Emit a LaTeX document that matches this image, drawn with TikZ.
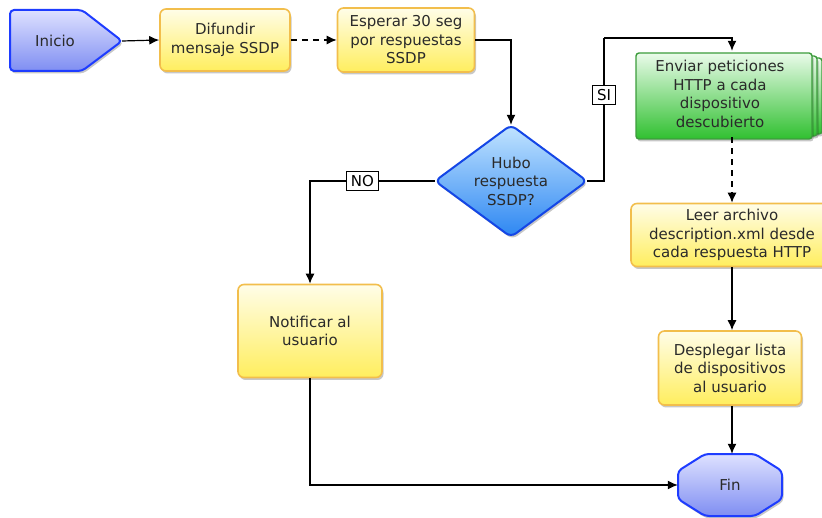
\documentclass[tikz,border=0pt]{standalone}
\usepackage{fontspec}
\setmainfont{DejaVu Sans}
\usetikzlibrary{arrows.meta,shadows,calc}
\definecolor{txt}{HTML}{2A2A2A}
\definecolor{ytop}{HTML}{FFFDE8}
\definecolor{ybot}{HTML}{FFEE5E}
\definecolor{yborder}{HTML}{F2BE4C}
\definecolor{btop}{HTML}{DEE1FF}
\definecolor{bbot}{HTML}{7F8EF2}
\definecolor{bborder}{HTML}{1E3CFF}
\definecolor{dtop}{HTML}{C2E4FF}
\definecolor{dbot}{HTML}{2C86F2}
\definecolor{dborder}{HTML}{1446E6}
\definecolor{gtop}{HTML}{EAFBEA}
\definecolor{gbot}{HTML}{30C030}
\definecolor{gborder}{HTML}{3C9C3C}
\begin{document}
\begin{tikzpicture}[x=1pt,y=-1pt,
  every node/.style={font=\fontsize{15}{18.5}\selectfont, text=txt, align=center},
  shad/.style={drop shadow={shadow xshift=1.5pt, shadow yshift=-2.5pt, opacity=0.22, fill=black}},
  ybox/.style={draw=yborder, line width=1.6pt, rounded corners=6pt, top color=ytop, bottom color=ybot, shad, inner sep=2pt},
  bshape/.style={draw=bborder, line width=2pt, rounded corners=4pt, top color=btop, bottom color=bbot, shad},
  dshape/.style={draw=dborder, line width=2pt, rounded corners=6pt, top color=dtop, bottom color=dbot, shad},
  gshape/.style={draw=gborder, line width=1.4pt, rounded corners=3pt, top color=gtop, bottom color=gbot, shad},
  textonly/.style={inner sep=0pt},
  conn/.style={line width=1.2pt, draw=black, -{Latex[length=10pt,width=9pt]}},
  dconn/.style={conn, dash pattern=on 6pt off 5pt},
  lbl/.style={draw=black, fill=white, line width=0.9pt, inner xsep=4.5pt, inner ysep=4pt, font=\fontsize{15}{16}\selectfont, text=black}
]
\useasboundingbox (0,0) rectangle (822,518);

% Inicio pentagon
\draw[bshape] (10,10) -- (82,10) -- (122,41) -- (82,71) -- (10,71) -- cycle;
\node[textonly, minimum width=112, minimum height=61] (inicio) at (66,41) {Inicio\hspace{22pt}};

% Yellow boxes
\node[ybox, minimum width=130, minimum height=62] (difundir) at (225,40) {Difundir\\mensaje SSDP};
\node[ybox, minimum width=137, minimum height=64] (esperar) at (406,40) {Esperar 30 seg\\por respuestas\\SSDP};

% Decision diamond
\draw[dshape] (511,125) -- (587,181) -- (511,237) -- (435,181) -- cycle;
\node[textonly, minimum width=152, minimum height=112] (hubo) at (511,181) {Hubo\\respuesta\\SSDP?};

% Green stacked box
\draw[gshape] (646,58) rectangle (822,134);
\draw[gshape] (641,56) rectangle (817,136);
\draw[gshape] (636,53) rectangle (812,139);
\node[textonly, minimum width=176, minimum height=86] (enviar) at (720,94) {Enviar peticiones\\HTTP a cada\\dispositivo\\descubierto};

\node[ybox, minimum width=202, minimum height=63] (leer) at (732,235) {Leer archivo\\description.xml desde\\cada respuesta HTTP};
\node[ybox, minimum width=143, minimum height=74] (desplegar) at (730,368) {Desplegar lista\\de dispositivos\\al usuario};
\node[ybox, minimum width=144, minimum height=93] (notificar) at (310,331) {Notificar al\\usuario};

% Fin octagon
\draw[bshape] (705,454) -- (755,454) -- (782,471) -- (782,499) -- (755,516) -- (705,516) -- (678,499) -- (678,471) -- cycle;
\node[textonly, minimum width=104, minimum height=62] (fin) at (730,485) {Fin};

% Connectors
\coordinate (siup) at (604,38);
\draw[conn] (inicio.east) -- (difundir.west);
\draw[dconn] (difundir.east) -- (esperar.west);
\draw[conn] (esperar.east) -| (hubo.north);
\draw[conn] (hubo.west) -| node[lbl, pos=0.29] {NO} (notificar.north);
\draw[line width=1.2pt] (hubo.east) -| node[lbl, pos=0.8] {SI} (siup);
\draw[conn] (siup) -| (leer.north |- enviar.north);
\draw[dconn] (leer.north |- enviar.south) -- (leer.north);
\draw[conn] (leer.south) -- (leer.south |- desplegar.north);
\draw[conn] (leer.south |- desplegar.south) -- (leer.south |- fin.north);
\draw[conn] (notificar.south) |- (fin.west);
\end{tikzpicture}
\end{document}
